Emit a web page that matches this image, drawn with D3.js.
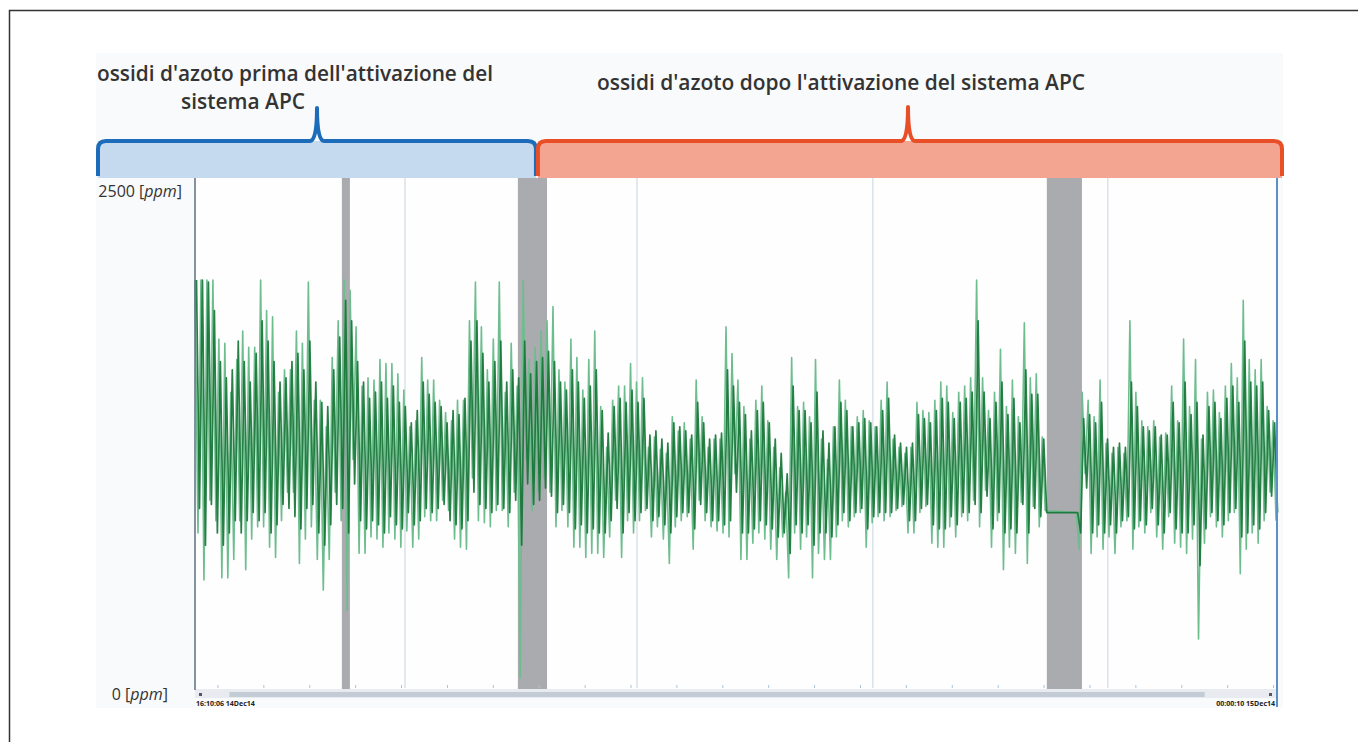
<!DOCTYPE html>
<html>
<head>
<meta charset="utf-8">
<script src="https://cdn.jsdelivr.net/npm/d3@7"></script>
<style>
  body { margin: 0; background: #fff; }
  svg { display: block; }
</style>
</head>
<body>
<svg></svg>
<script>
// NOx readings [ppm], alternating peak / trough samples, one sample every sampleStep minutes
// outer trace (light green strokes)
var noxBeforeGap = [
  2000,760, 2000,530, 2000,920, 2000,820, 1710,540, 1690,540, 1450,630, 1610,820, 1750,580, 1670,730,
  1670,790, 2000,790, 1850,690, 1820,640, 1450,820, 1560,960, 1560,960, 1750,610, 1690,730, 1990,790,
  1410,630, 1410,480, 1280,630, 1620,960, 1800,820, 2000,380, 1950,1120, 1770,660, 1480,660, 1520,740,
  1510,730, 1610,690, 1590,760, 1590,730, 1540,690, 1460,770, 1280,690, 1310,730, 1620,840, 1510,820,
  1510,820, 1410,920, 1350,870, 1310,730, 1410,690, 1410,680, 1800,1030, 1990,820, 1770,810, 1560,790,
  1710,870, 1990,870, 1450,790, 1690,960, 1480,50, 2000,1120, 1610,870, 1670,960, 1750,1030, 1800,960,
  1870,790, 1560,870, 1500,790, 1710,690, 1620,690, 1460,640, 1610,660, 1750,660, 1380,640, 1180,740,
  1410,920, 1480,640, 1480,820, 1590,760, 1500,820, 1520,870, 1180,740, 1230,790, 1170,730, 1150,610,
  1330,790, 1260,820, 1300,840, 1220,680, 1510,920, 1330,820, 1180,790, 1220,770, 1220,760, 1770,740,
  1640,1050, 1510,630, 1380,630, 1220,710, 1410,760, 1480,730, 1310,680, 1180,630, 1080,740, 960,540,
  1620,760, 1380,680, 1400,740, 1330,540, 1610,660, 1220,630, 1120,630, 1280,740, 1510,820, 1410,790,
  1280,840, 1330,860, 1360,690, 1310,810, 1280,840, 1410,820, 1500,840, 1220,870, 1180,890, 1150,760,
  1180,760, 1400,860, 1360,890, 1350,710, 1410,690, 1500,690, 1480,790, 1350,740, 1450,840, 1480,820,
  1520,920, 2000,790, 1520,970, 1360,690, 1450,820, 1660,580, 1380,690, 1510,660, 1330,910, 1790,610,
  1520,890, 1540,790, 1230,870
];
var noxAfterGap = [
  860,680, 1450,1050, 1410,660, 1330,740, 1510,680, 1200,740, 1150,660, 1180,790, 1150,820, 1800,680,
  1450,790, 1310,760, 1280,860, 1310,740, 1230,680, 1250,840, 1480,710, 1310,690, 1710,660, 1380,730,
  1610,240, 1220,710, 1450,840, 1460,790, 1350,740, 1480,820, 1590,860, 1520,560, 1900,680, 1610,760,
  1560,710, 1610,820, 1380,960, 1310,820
];
// core trace (dark green strokes), read half a sample later
var coreBeforeGap = [
  2000,880, 2000,700, 1990,900, 1850,760, 1600,700, 1520,760, 1560,820, 1700,760, 1600,820, 1500,860,
  1640,820, 1800,860, 1700,760, 1600,800, 1500,900, 1520,880, 1600,840, 1640,780, 1560,880, 1700,900,
  1500,760, 1400,700, 1380,800, 1560,900, 1720,880, 1900,760, 1800,1000, 1600,820, 1500,780, 1420,820,
  1450,800, 1500,760, 1420,840, 1480,800, 1400,780, 1380,860, 1300,800, 1360,820, 1500,880, 1440,860,
  1400,880, 1380,900, 1300,820, 1360,800, 1340,780, 1420,820, 1700,960, 1800,900, 1640,880, 1500,860,
  1600,900, 1700,880, 1500,860, 1560,920, 1520,700, 1700,1000, 1540,900, 1600,920, 1620,980, 1650,940,
  1600,860, 1500,900, 1460,860, 1560,780, 1500,800, 1420,760, 1480,780, 1560,760, 1360,760, 1250,820,
  1380,880, 1420,760, 1400,860, 1460,820, 1400,860, 1420,880, 1240,820, 1260,840, 1220,800, 1200,760,
  1300,840, 1280,860, 1260,860, 1240,780, 1400,900, 1300,860, 1220,820, 1240,820, 1250,800, 1560,820,
  1480,960, 1400,760, 1340,760, 1260,780, 1360,820, 1400,800, 1300,780, 1220,740, 1150,760, 1050,660,
  1480,800, 1360,760, 1360,800, 1300,700, 1450,760, 1260,760, 1200,740, 1280,800, 1400,860, 1360,820,
  1280,860, 1300,880, 1320,780, 1300,840, 1280,860, 1360,860, 1420,860, 1240,880, 1200,900, 1180,820,
  1200,820, 1340,880, 1320,900, 1300,800, 1360,780, 1420,780, 1400,840, 1320,800, 1400,860, 1420,860,
  1450,900, 1800,860, 1450,940, 1320,780, 1400,860, 1500,760, 1340,780, 1420,760, 1300,900, 1560,760,
  1440,880, 1440,840, 1220,860
];
var coreAfterGap = [
  860,760, 1320,980, 1340,760, 1300,800, 1400,760, 1220,800, 1180,760, 1200,820, 1180,840, 1500,780,
  1380,820, 1280,800, 1260,880, 1280,800, 1240,760, 1240,860, 1400,780, 1300,760, 1500,760, 1340,800,
  1400,600, 1240,780, 1380,860, 1400,820, 1320,800, 1420,860, 1480,880, 1400,740, 1700,760, 1500,800,
  1480,780, 1500,860, 1360,940, 1300,860
];

// Time settings, minutes from the start of the record
var sampleStep = 1.3;
var afterGapStart = 384;
var timeEnd = 471.5;
var activationTime = 149;
var grayBands = [[64, 67.5], [140.7, 153.4], [371.2, 386.5]];
var gridTimes = [91.5, 192.6, 295.4, 397.8];
var minorTicks = d3.range(10, 471, 20);
var yMax = 2500;
var timeLabels = ['16:10:06 14Dec14', '00:00:10 15Dec14'];

// Texts
var titleBefore = ["ossidi d'azoto prima dell'attivazione del", 'sistema APC'];
var titleAfter = "ossidi d'azoto dopo l'attivazione del sistema APC";

// Dimensions
var width = 1358;
var height = 742;
var plotLeft = 195, plotRight = 1277, plotTop = 178, plotBottom = 688;

var svg = d3.select('svg')
  .attr('width', width)
  .attr('height', height)
  .style('font-family', 'Open Sans, sans-serif');

// outer frame (left and top only)
svg.append('path')
  .attr('d', 'M9.5,742 V10.5 H1358')
  .attr('fill', 'none')
  .attr('stroke', '#333')
  .attr('stroke-width', 1.5);

// screenshot background
svg.append('rect')
  .attr('x', 96).attr('y', 53)
  .attr('width', 1187).attr('height', 655)
  .attr('fill', '#f9fafb');

svg.append('rect')
  .attr('x', plotLeft).attr('y', plotTop)
  .attr('width', plotRight - plotLeft).attr('height', plotBottom - plotTop + 2)
  .attr('fill', '#fefefe');

var x = d3.scaleLinear().domain([0, timeEnd]).range([plotLeft, plotRight]);
var y = d3.scaleLinear().domain([0, yMax]).range([plotBottom, plotTop]);

// build the series
function toSamples(before, after, offset) {
  var out = [];
  before.forEach(function (v, i) { out.push({t: offset + i * sampleStep, v: v}); });
  after.forEach(function (v, i) { out.push({t: afterGapStart + offset + i * sampleStep, v: v}); });
  return out;
}
var outer = toSamples(noxBeforeGap, noxAfterGap, 0);
var core = toSamples(coreBeforeGap, coreAfterGap, sampleStep / 2);

// gray bands (no-data periods)
svg.selectAll('.band')
  .data(grayBands)
  .enter().append('rect')
    .attr('class', 'band')
    .attr('x', function (d) { return x(d[0]); })
    .attr('y', plotTop)
    .attr('width', function (d) { return x(d[1]) - x(d[0]); })
    .attr('height', plotBottom - plotTop + 2)
    .attr('fill', '#a9abae');

// vertical grid
svg.selectAll('.grid')
  .data(gridTimes)
  .enter().append('line')
    .attr('class', 'grid')
    .attr('x1', function (d) { return x(d); })
    .attr('x2', function (d) { return x(d); })
    .attr('y1', plotTop)
    .attr('y2', plotBottom)
    .attr('stroke', '#c9d3dd')
    .attr('stroke-width', 1);

// minor ticks at bottom
svg.selectAll('.tickB')
  .data(minorTicks)
  .enter().append('line')
    .attr('x1', function (d) { return x(d); })
    .attr('x2', function (d) { return x(d); })
    .attr('y1', plotBottom - 3)
    .attr('y2', plotBottom)
    .attr('stroke', '#a8c4dc');

// scroll bar strip
svg.append('rect')
  .attr('x', plotLeft).attr('y', plotBottom + 1)
  .attr('width', plotRight - plotLeft).attr('height', 9)
  .attr('fill', '#e8ecf0');
svg.append('rect')
  .attr('x', x(15)).attr('y', plotBottom + 4)
  .attr('width', x(440) - x(15)).attr('height', 5)
  .attr('fill', '#c3ccd5');
svg.append('rect')
  .attr('x', plotLeft + 4).attr('y', plotBottom + 5)
  .attr('width', 3).attr('height', 3)
  .attr('fill', '#556');
svg.append('rect')
  .attr('x', plotRight - 8).attr('y', plotBottom + 5)
  .attr('width', 3).attr('height', 3)
  .attr('fill', '#556');

// time labels
svg.append('text')
  .attr('x', plotLeft + 1).attr('y', 706)
  .attr('font-size', 7).attr('font-weight', 700).attr('fill', '#222')
  .text(timeLabels[0]);
svg.append('text')
  .attr('x', plotRight - 2).attr('y', 706)
  .attr('text-anchor', 'end')
  .attr('font-size', 7).attr('font-weight', 700).attr('fill', '#222')
  .text(timeLabels[1]);

// NOx traces
var line = d3.line()
  .x(function (d) { return x(d.t); })
  .y(function (d) { return y(d.v); });

svg.append('path')
  .datum(outer)
  .attr('d', line)
  .attr('fill', 'none')
  .attr('stroke', '#6dbd8e')
  .attr('stroke-width', 1.6)
  .attr('stroke-linejoin', 'round');

svg.append('path')
  .datum(core)
  .attr('d', line)
  .attr('fill', 'none')
  .attr('stroke', '#177536')
  .attr('stroke-opacity', 0.92)
  .attr('stroke-width', 1.7)
  .attr('stroke-linejoin', 'round');

// left axis line and right border
svg.append('line')
  .attr('x1', plotLeft).attr('x2', plotLeft)
  .attr('y1', plotTop).attr('y2', plotBottom + 2)
  .attr('stroke', '#5d6e80').attr('stroke-width', 1.5);
svg.append('line')
  .attr('x1', plotRight).attr('x2', plotRight)
  .attr('y1', plotTop).attr('y2', 707)
  .attr('stroke', '#5b8fc8').attr('stroke-width', 2);

// y labels
var yLabels = svg.selectAll('.ylab')
  .data([yMax, 0])
  .enter().append('text')
    .attr('class', 'ylab')
    .attr('x', function (d) { return d === yMax ? 182 : 168; })
    .attr('y', function (d) { return d === yMax ? y(d) + 19 : y(d) + 12; })
    .attr('text-anchor', 'end')
    .attr('font-size', 16)
    .attr('fill', '#333');
yLabels.append('tspan').text(function (d) { return d + ' '; });
yLabels.append('tspan').text('[');
yLabels.append('tspan').attr('font-style', 'italic').text('ppm');
yLabels.append('tspan').text(']');

// brackets
function bracketPath(x0, x1, tip, topY, tipY, botY) {
  var r = 8;
  return 'M' + x0 + ',' + botY +
    ' V' + (topY + r) +
    ' Q' + x0 + ',' + topY + ' ' + (x0 + r) + ',' + topY +
    ' H' + (tip - 7) +
    ' Q' + tip + ',' + topY + ' ' + tip + ',' + tipY +
    ' Q' + tip + ',' + topY + ' ' + (tip + 7) + ',' + topY +
    ' H' + (x1 - r) +
    ' Q' + x1 + ',' + topY + ' ' + x1 + ',' + (topY + r) +
    ' V' + botY;
}
function bracketFill(x0, x1, topY, botY) {
  var r = 8;
  return 'M' + x0 + ',' + botY +
    ' V' + (topY + r) +
    ' Q' + x0 + ',' + topY + ' ' + (x0 + r) + ',' + topY +
    ' H' + (x1 - r) +
    ' Q' + x1 + ',' + topY + ' ' + x1 + ',' + (topY + r) +
    ' V' + botY + ' Z';
}

var split = x(activationTime);
var brackets = [
  {x0: 98, x1: split - 1, tip: 317, tipY: 108, stroke: '#1d6cb9', fill: '#c6daef'},
  {x0: split + 1, x1: 1282, tip: 908, tipY: 107, stroke: '#e84f26', fill: '#f4a592'}
];
brackets.forEach(function (b) {
  svg.append('path')
    .attr('d', bracketFill(b.x0, b.x1, 141, plotTop))
    .attr('fill', b.fill);
  svg.append('path')
    .attr('d', bracketPath(b.x0, b.x1, b.tip, 141, b.tipY, 176))
    .attr('fill', 'none')
    .attr('stroke', b.stroke)
    .attr('stroke-width', 4)
    .attr('stroke-linejoin', 'round');
});

// titles
svg.append('text')
  .attr('x', 97).attr('y', 81)
  .attr('font-size', 21).attr('font-weight', 600).attr('fill', '#333')
  .attr('textLength', 396).attr('lengthAdjust', 'spacingAndGlyphs')
  .text(titleBefore[0]);
svg.append('text')
  .attr('x', 181).attr('y', 109)
  .attr('font-size', 21).attr('font-weight', 600).attr('fill', '#333')
  .attr('textLength', 124).attr('lengthAdjust', 'spacingAndGlyphs')
  .text(titleBefore[1]);
svg.append('text')
  .attr('x', 597).attr('y', 90)
  .attr('font-size', 21).attr('font-weight', 600).attr('fill', '#333')
  .attr('textLength', 488).attr('lengthAdjust', 'spacingAndGlyphs')
  .text(titleAfter);
</script>
</body>
</html>
